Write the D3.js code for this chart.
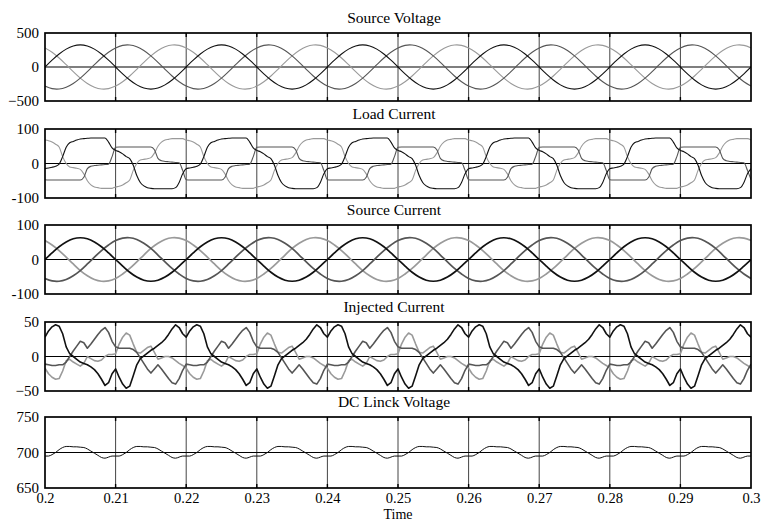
<!DOCTYPE html>
<html><head><meta charset="utf-8">
<script src="https://cdn.jsdelivr.net/npm/d3@7/dist/d3.min.js"></script>
<style>body{margin:0;background:#fff}</style>
</head><body>
<svg id="chart" width="763" height="523"></svg>
<script>
// ---------------- data ----------------
const xTicks = [0.2,0.21,0.22,0.23,0.24,0.25,0.26,0.27,0.28,0.29,0.3];
const xTickLabels = ["0.2","0.21","0.22","0.23","0.24","0.25","0.26","0.27","0.28","0.29","0.3"];
const panelTitles = ["Source Voltage","Load Current","Source Current","Injected Current","DC Linck Voltage"];
const yTickValues = [[-500,0,500],[-100,0,100],[-100,0,100],[-50,0,50],[650,700,750]];
const yTickLabels = [["\u2212500","0","500"],["-100","0","100"],["-100","0","100"],["\u221250","0","50"],["650","700","750"]];
const xLabel = "Time";
const tStart = 0.2;

// Source voltage, sampled every 1 ms
const sourceVoltageA = [
0,100,191,263,309,325,309,263,191,100,0,-100,-191,-263,-309,-325,-309,-263,-191,-100,
0,100,191,263,309,325,309,263,191,100,0,-100,-191,-263,-309,-325,-309,-263,-191,-100,
0,100,191,263,309,325,309,263,191,100,0,-100,-191,-263,-309,-325,-309,-263,-191,-100,
0,100,191,263,309,325,309,263,191,100,0,-100,-191,-263,-309,-325,-309,-263,-191,-100,
0,100,191,263,309,325,309,263,191,100,0,-100,-191,-263,-309,-325,-309,-263,-191,-100,
0];
const sourceVoltageB = [
-281,-318,-323,-297,-242,-163,-68,34,132,217,281,318,323,297,242,163,68,-34,-132,-217,
-281,-318,-323,-297,-242,-163,-68,34,132,217,281,318,323,297,242,163,68,-34,-132,-217,
-281,-318,-323,-297,-242,-163,-68,34,132,217,281,318,323,297,242,163,68,-34,-132,-217,
-281,-318,-323,-297,-242,-163,-68,34,132,217,281,318,323,297,242,163,68,-34,-132,-217,
-281,-318,-323,-297,-242,-163,-68,34,132,217,281,318,323,297,242,163,68,-34,-132,-217,
-281];
const sourceVoltageC = [
281,217,132,34,-68,-163,-242,-297,-323,-318,-281,-217,-132,-34,68,163,242,297,323,318,
281,217,132,34,-68,-163,-242,-297,-323,-318,-281,-217,-132,-34,68,163,242,297,323,318,
281,217,132,34,-68,-163,-242,-297,-323,-318,-281,-217,-132,-34,68,163,242,297,323,318,
281,217,132,34,-68,-163,-242,-297,-323,-318,-281,-217,-132,-34,68,163,242,297,323,318,
281,217,132,34,-68,-163,-242,-297,-323,-318,-281,-217,-132,-34,68,163,242,297,323,318,
281];

// Load current, sampled every 0.5 ms
const loadCurrentA = [
-15,-13,-11,-8,-2,20,47,60,64,68,71,72,73,74,74,74,74,74,62,45,38,34,28,20,14,-5,-35,-55,-65,-70,-72,-73,-73,-73,-73,-73,-73,-70,-55,-30,
-15,-13,-11,-8,-2,20,47,60,64,68,71,72,73,74,74,74,74,74,62,45,38,34,28,20,14,-5,-35,-55,-65,-70,-72,-73,-73,-73,-73,-73,-73,-70,-55,-30,
-15,-13,-11,-8,-2,20,47,60,64,68,71,72,73,74,74,74,74,74,62,45,38,34,28,20,14,-5,-35,-55,-65,-70,-72,-73,-73,-73,-73,-73,-73,-70,-55,-30,
-15,-13,-11,-8,-2,20,47,60,64,68,71,72,73,74,74,74,74,74,62,45,38,34,28,20,14,-5,-35,-55,-65,-70,-72,-73,-73,-73,-73,-73,-73,-70,-55,-30,
-15,-13,-11,-8,-2,20,47,60,64,68,71,72,73,74,74,74,74,74,62,45,38,34,28,20,14,-5,-35,-55,-65,-70,-72,-73,-73,-73,-73,-73,-73,-70,-55,-30,
-15];
const loadCurrentB = [
-47,-48,-48,-48,-48,-48,-48,-48,-48,-48,-48,-40,-15,-8,-6,-5,-4,-3,-2,20,47,48,48,48,48,48,48,48,48,48,48,40,15,8,6,5,4,3,2,-20,
-47,-48,-48,-48,-48,-48,-48,-48,-48,-48,-48,-40,-15,-8,-6,-5,-4,-3,-2,20,47,48,48,48,48,48,48,48,48,48,48,40,15,8,6,5,4,3,2,-20,
-47,-48,-48,-48,-48,-48,-48,-48,-48,-48,-48,-40,-15,-8,-6,-5,-4,-3,-2,20,47,48,48,48,48,48,48,48,48,48,48,40,15,8,6,5,4,3,2,-20,
-47,-48,-48,-48,-48,-48,-48,-48,-48,-48,-48,-40,-15,-8,-6,-5,-4,-3,-2,20,47,48,48,48,48,48,48,48,48,48,48,40,15,8,6,5,4,3,2,-20,
-47,-48,-48,-48,-48,-48,-48,-48,-48,-48,-48,-40,-15,-8,-6,-5,-4,-3,-2,20,47,48,48,48,48,48,48,48,48,48,48,40,15,8,6,5,4,3,2,-20,
-47];
const loadCurrentC = [
68,66,62,56,48,20,0,-10,-12,-14,-17,-30,-50,-62,-68,-70,-72,-72,-72,-72,-68,-66,-62,-56,-48,-20,0,10,12,14,17,30,50,62,68,70,72,72,72,72,
68,66,62,56,48,20,0,-10,-12,-14,-17,-30,-50,-62,-68,-70,-72,-72,-72,-72,-68,-66,-62,-56,-48,-20,0,10,12,14,17,30,50,62,68,70,72,72,72,72,
68,66,62,56,48,20,0,-10,-12,-14,-17,-30,-50,-62,-68,-70,-72,-72,-72,-72,-68,-66,-62,-56,-48,-20,0,10,12,14,17,30,50,62,68,70,72,72,72,72,
68,66,62,56,48,20,0,-10,-12,-14,-17,-30,-50,-62,-68,-70,-72,-72,-72,-72,-68,-66,-62,-56,-48,-20,0,10,12,14,17,30,50,62,68,70,72,72,72,72,
68,66,62,56,48,20,0,-10,-12,-14,-17,-30,-50,-62,-68,-70,-72,-72,-72,-72,-68,-66,-62,-56,-48,-20,0,10,12,14,17,30,50,62,68,70,72,72,72,72,
68];

// Source current, sampled every 1 ms
const sourceCurrentA = [
0,19,37,51,60,63,60,51,37,19,0,-19,-37,-51,-60,-63,-60,-51,-37,-19,
0,19,37,51,60,63,60,51,37,19,0,-19,-37,-51,-60,-63,-60,-51,-37,-19,
0,19,37,51,60,63,60,51,37,19,0,-19,-37,-51,-60,-63,-60,-51,-37,-19,
0,19,37,51,60,63,60,51,37,19,0,-19,-37,-51,-60,-63,-60,-51,-37,-19,
0,19,37,51,60,63,60,51,37,19,0,-19,-37,-51,-60,-63,-60,-51,-37,-19,
0];
const sourceCurrentB = [
-55,-62,-63,-58,-47,-32,-13,7,26,42,55,62,63,58,47,32,13,-7,-26,-42,
-55,-62,-63,-58,-47,-32,-13,7,26,42,55,62,63,58,47,32,13,-7,-26,-42,
-55,-62,-63,-58,-47,-32,-13,7,26,42,55,62,63,58,47,32,13,-7,-26,-42,
-55,-62,-63,-58,-47,-32,-13,7,26,42,55,62,63,58,47,32,13,-7,-26,-42,
-55,-62,-63,-58,-47,-32,-13,7,26,42,55,62,63,58,47,32,13,-7,-26,-42,
-55];
const sourceCurrentC = [
55,42,26,7,-13,-32,-47,-58,-63,-62,-55,-42,-26,-7,13,32,47,58,63,62,
55,42,26,7,-13,-32,-47,-58,-63,-62,-55,-42,-26,-7,13,32,47,58,63,62,
55,42,26,7,-13,-32,-47,-58,-63,-62,-55,-42,-26,-7,13,32,47,58,63,62,
55,42,26,7,-13,-32,-47,-58,-63,-62,-55,-42,-26,-7,13,32,47,58,63,62,
55,42,26,7,-13,-32,-47,-58,-63,-62,-55,-42,-26,-7,13,32,47,58,63,62,
55];

// Injected current, sampled every 0.5 ms
const injectedCurrentA = [
28,37,43,46,44,33,14,4,0,-4,-8,-10,-12,-15,-19,-25,-33,-42,-38,-25,-18,-30,-40,-46,-43,-28,-12,-3,1,5,9,12,16,20,25,32,40,46,42,33,
28,37,43,46,44,33,14,4,0,-4,-8,-10,-12,-15,-19,-25,-33,-42,-38,-25,-18,-30,-40,-46,-43,-28,-12,-3,1,5,9,12,16,20,25,32,40,46,42,33,
28,37,43,46,44,33,14,4,0,-4,-8,-10,-12,-15,-19,-25,-33,-42,-38,-25,-18,-30,-40,-46,-43,-28,-12,-3,1,5,9,12,16,20,25,32,40,46,42,33,
28,37,43,46,44,33,14,4,0,-4,-8,-10,-12,-15,-19,-25,-33,-42,-38,-25,-18,-30,-40,-46,-43,-28,-12,-3,1,5,9,12,16,20,25,32,40,46,42,33,
28,37,43,46,44,33,14,4,0,-4,-8,-10,-12,-15,-19,-25,-33,-42,-38,-25,-18,-30,-40,-46,-43,-28,-12,-3,1,5,9,12,16,20,25,32,40,46,42,33,
28];
const injectedCurrentB = [
-11,-12,-13,-13,-12,-12,-8,0,8,15,22,20,12,18,25,32,38,42,35,22,14,12,12,12,12,10,6,-2,-10,-18,-24,-18,-12,-18,-25,-32,-38,-40,-32,-20,
-11,-12,-13,-13,-12,-12,-8,0,8,15,22,20,12,18,25,32,38,42,35,22,14,12,12,12,12,10,6,-2,-10,-18,-24,-18,-12,-18,-25,-32,-38,-40,-32,-20,
-11,-12,-13,-13,-12,-12,-8,0,8,15,22,20,12,18,25,32,38,42,35,22,14,12,12,12,12,10,6,-2,-10,-18,-24,-18,-12,-18,-25,-32,-38,-40,-32,-20,
-11,-12,-13,-13,-12,-12,-8,0,8,15,22,20,12,18,25,32,38,42,35,22,14,12,12,12,12,10,6,-2,-10,-18,-24,-18,-12,-18,-25,-32,-38,-40,-32,-20,
-11,-12,-13,-13,-12,-12,-8,0,8,15,22,20,12,18,25,32,38,42,35,22,14,12,12,12,12,10,6,-2,-10,-18,-24,-18,-12,-18,-25,-32,-38,-40,-32,-20,
-11];
const injectedCurrentC = [
-17,-25,-30,-33,-32,-21,-6,-4,-8,-11,-14,-10,0,-3,-6,-7,-5,0,3,3,4,18,28,34,31,18,6,5,9,13,15,6,-4,-2,0,0,-2,-6,-10,-13,
-17,-25,-30,-33,-32,-21,-6,-4,-8,-11,-14,-10,0,-3,-6,-7,-5,0,3,3,4,18,28,34,31,18,6,5,9,13,15,6,-4,-2,0,0,-2,-6,-10,-13,
-17,-25,-30,-33,-32,-21,-6,-4,-8,-11,-14,-10,0,-3,-6,-7,-5,0,3,3,4,18,28,34,31,18,6,5,9,13,15,6,-4,-2,0,0,-2,-6,-10,-13,
-17,-25,-30,-33,-32,-21,-6,-4,-8,-11,-14,-10,0,-3,-6,-7,-5,0,3,3,4,18,28,34,31,18,6,5,9,13,15,6,-4,-2,0,0,-2,-6,-10,-13,
-17,-25,-30,-33,-32,-21,-6,-4,-8,-11,-14,-10,0,-3,-6,-7,-5,0,3,3,4,18,28,34,31,18,6,5,9,13,15,6,-4,-2,0,0,-2,-6,-10,-13,
-17];

// DC link voltage, sampled every 0.5 ms
const dcLinkVoltage = [
695,695,697,700,704,707,708.5,708.5,708,708,707.5,707,705,702,699,696,693,692,693.5,695,
695,695,697,700,704,707,708.5,708.5,708,708,707.5,707,705,702,699,696,693,692,693.5,695,
695,695,697,700,704,707,708.5,708.5,708,708,707.5,707,705,702,699,696,693,692,693.5,695,
695,695,697,700,704,707,708.5,708.5,708,708,707.5,707,705,702,699,696,693,692,693.5,695,
695,695,697,700,704,707,708.5,708.5,708,708,707.5,707,705,702,699,696,693,692,693.5,695,
695,695,697,700,704,707,708.5,708.5,708,708,707.5,707,705,702,699,696,693,692,693.5,695,
695,695,697,700,704,707,708.5,708.5,708,708,707.5,707,705,702,699,696,693,692,693.5,695,
695,695,697,700,704,707,708.5,708.5,708,708,707.5,707,705,702,699,696,693,692,693.5,695,
695,695,697,700,704,707,708.5,708.5,708,708,707.5,707,705,702,699,696,693,692,693.5,695,
695,695,697,700,704,707,708.5,708.5,708,708,707.5,707,705,702,699,696,693,692,693.5,695,
695];
const dcReference = 700;

// ---------------- drawing ----------------
const FONT = "'Liberation Serif','Times New Roman',serif";
const COL_A = "#111", COL_B = "#555", COL_C = "#9a9a9a";
const left = 45, right = 751;
const tops = [33,129,225,322,417];
const heights = [68,69,69,69,71];

const panels = [
  {series:[[sourceVoltageC,0.001,COL_C],[sourceVoltageB,0.001,COL_B],[sourceVoltageA,0.001,COL_A]], curve:d3.curveCatmullRom, ref:0, w:1.1},
  {series:[[loadCurrentC,0.0005,COL_C],[loadCurrentB,0.0005,COL_B],[loadCurrentA,0.0005,COL_A]], curve:d3.curveMonotoneX, ref:0, w:1.1},
  {series:[[sourceCurrentC,0.001,COL_C],[sourceCurrentB,0.001,COL_B],[sourceCurrentA,0.001,COL_A]], curve:d3.curveCatmullRom, ref:0, w:1.7},
  {series:[[injectedCurrentC,0.0005,COL_C],[injectedCurrentB,0.0005,COL_B],[injectedCurrentA,0.0005,COL_A]], curve:d3.curveLinear, ref:0, w:1.6},
  {series:[[dcLinkVoltage,0.0005,COL_A]], curve:d3.curveMonotoneX, ref:dcReference, w:1}
];

const svg = d3.select("#chart");
svg.append("rect").attr("width",763).attr("height",523).attr("fill","#fff");
const x = d3.scaleLinear().domain([0.2,0.3]).range([left,right]);

panels.forEach((p,pi) => {
  const top = tops[pi], h = heights[pi];
  const dom = yTickValues[pi];
  const y = d3.scaleLinear().domain([dom[0],dom[2]]).range([top+h, top]);
  const g = svg.append("g");
  const clipId = "clip"+pi;
  svg.append("clipPath").attr("id",clipId).append("rect")
    .attr("x",left).attr("y",top).attr("width",right-left).attr("height",h);

  // vertical grid lines
  g.selectAll("line.grid").data(xTicks.slice(1,-1)).enter().append("line")
    .attr("x1",d=>x(d)).attr("x2",d=>x(d)).attr("y1",top).attr("y2",top+h)
    .attr("stroke","#444").attr("stroke-width",1);
  // small ticks at top/bottom
  g.selectAll("line.tk").data(xTicks.slice(1,-1)).enter().append("line")
    .attr("x1",d=>x(d)).attr("x2",d=>x(d)).attr("y1",top).attr("y2",top+4)
    .attr("stroke","#000").attr("stroke-width",1.4);
  g.selectAll("line.tk2").data(xTicks.slice(1,-1)).enter().append("line")
    .attr("x1",d=>x(d)).attr("x2",d=>x(d)).attr("y1",top+h-4).attr("y2",top+h)
    .attr("stroke","#000").attr("stroke-width",1.4);

  // reference horizontal line
  g.append("line").attr("x1",left).attr("x2",right).attr("y1",y(p.ref)).attr("y2",y(p.ref))
    .attr("stroke","#000").attr("stroke-width",1.1);

  // series
  const lg = g.append("g").attr("clip-path","url(#"+clipId+")");
  p.series.forEach(([vals,step,col]) => {
    const line = d3.line().x((d,i)=>x(tStart + i*step)).y(d=>y(d)).curve(p.curve);
    lg.append("path").attr("d",line(vals)).attr("fill","none")
      .attr("stroke",col).attr("stroke-width",p.w).attr("stroke-linejoin","round");
  });

  // border
  g.append("rect").attr("x",left).attr("y",top).attr("width",right-left).attr("height",h)
    .attr("fill","none").attr("stroke","#000").attr("stroke-width",1.7);

  // y axis labels
  const yAxis = d3.axisLeft(y).tickValues(dom).tickSize(0).tickPadding(6)
    .tickFormat((d,i)=>yTickLabels[pi][i]);
  const ya = svg.append("g").attr("transform",`translate(${left},0)`).call(yAxis);
  ya.select(".domain").remove();
  ya.selectAll("text").attr("font-family",FONT).attr("font-size",15).attr("fill","#000");

  // title
  svg.append("text").attr("x",(left+right)/2 - 4).attr("y",top-10)
    .attr("text-anchor","middle").attr("font-family",FONT).attr("font-size",15.5)
    .attr("fill","#000").text(panelTitles[pi]);

  if (pi === panels.length-1) {
    const xAxis = d3.axisBottom(x).tickValues(xTicks).tickSize(0).tickPadding(5)
      .tickFormat((d,i)=>xTickLabels[i]);
    const xa = svg.append("g").attr("transform",`translate(0,${top+h})`).call(xAxis);
    xa.select(".domain").remove();
    xa.selectAll("text").attr("font-family",FONT).attr("font-size",14.5).attr("fill","#000");
    svg.append("text").attr("x",(left+right)/2).attr("y",519)
      .attr("text-anchor","middle").attr("font-family",FONT).attr("font-size",14)
      .attr("fill","#000").text(xLabel);
  }
});
</script>
</body></html>
